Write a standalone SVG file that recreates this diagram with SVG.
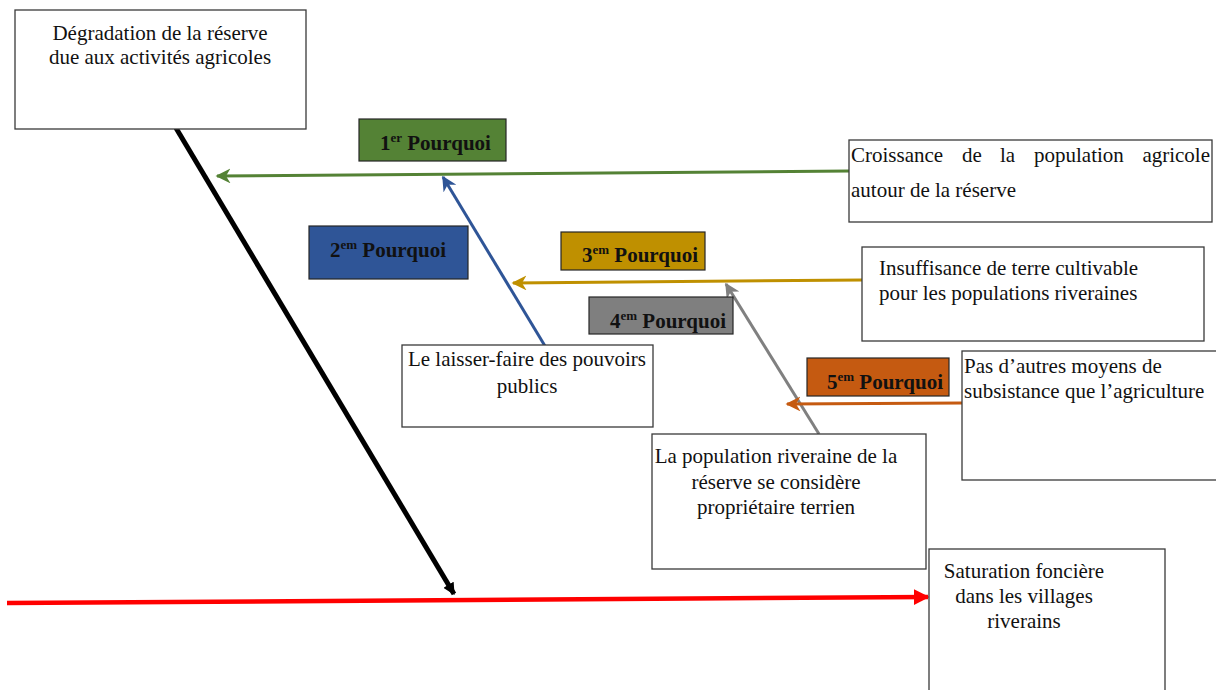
<svg xmlns="http://www.w3.org/2000/svg" width="1216" height="690" viewBox="0 0 1216 690">
<style>
.box{fill:#ffffff;stroke:#3a3a3a;stroke-width:1.3}
.tag{stroke:#262626;stroke-width:1.2}
.t{font-family:"Liberation Serif","Times New Roman",serif;font-size:21px;fill:#111}
.b{font-family:"Liberation Serif","Times New Roman",serif;font-size:21px;font-weight:bold;fill:#111}
.sup{font-size:13px}
.c{text-anchor:middle}
</style>
<defs>
<marker id="aGreen" viewBox="0 0 10 10" refX="9" refY="5" markerWidth="5" markerHeight="5" orient="auto" markerUnits="strokeWidth"><path d="M0,0 L10,5 L0,10 L3,5 z" fill="#548235"/></marker>
<marker id="aBlue" viewBox="0 0 10 10" refX="9" refY="5" markerWidth="5" markerHeight="5" orient="auto" markerUnits="strokeWidth"><path d="M0,0 L10,5 L0,10 L3,5 z" fill="#2F5597"/></marker>
<marker id="aGold" viewBox="0 0 10 10" refX="9" refY="5" markerWidth="5" markerHeight="5" orient="auto" markerUnits="strokeWidth"><path d="M0,0 L10,5 L0,10 L3,5 z" fill="#BF9000"/></marker>
<marker id="aGray" viewBox="0 0 10 10" refX="9" refY="5" markerWidth="5" markerHeight="5" orient="auto" markerUnits="strokeWidth"><path d="M0,0 L10,5 L0,10 L3,5 z" fill="#808080"/></marker>
<marker id="aOrange" viewBox="0 0 10 10" refX="9" refY="5" markerWidth="5" markerHeight="5" orient="auto" markerUnits="strokeWidth"><path d="M0,0 L10,5 L0,10 L3,5 z" fill="#C55A11"/></marker>
<marker id="aRed" viewBox="0 0 10 10" refX="9" refY="5" markerWidth="3.5" markerHeight="3.5" orient="auto" markerUnits="strokeWidth"><path d="M0,0 L10,5 L0,10 z" fill="#FF0000"/></marker>
<marker id="aBlack" viewBox="0 0 10 10" refX="9" refY="5" markerWidth="2.4" markerHeight="2.4" orient="auto" markerUnits="strokeWidth"><path d="M0,0 L10,5 L0,10 z" fill="#000"/></marker>
</defs>

<g id="connectors">
<line x1="176" y1="128" x2="454" y2="594" stroke="#000" stroke-width="5" marker-end="url(#aBlack)"/>
<line x1="7" y1="603" x2="928" y2="597" stroke="#FF0000" stroke-width="4.5" marker-end="url(#aRed)"/>
<line x1="849" y1="171" x2="217" y2="176" stroke="#548235" stroke-width="3" marker-end="url(#aGreen)"/>
<line x1="545" y1="346" x2="443" y2="177" stroke="#2F5597" stroke-width="3" marker-end="url(#aBlue)"/>
<line x1="862" y1="280" x2="513" y2="283" stroke="#BF9000" stroke-width="3" marker-end="url(#aGold)"/>
<line x1="819" y1="434" x2="726" y2="284" stroke="#808080" stroke-width="3" marker-end="url(#aGray)"/>
<line x1="962" y1="403" x2="787" y2="404" stroke="#C55A11" stroke-width="3" marker-end="url(#aOrange)"/>
</g>

<g id="n-degradation">
<rect class="box" x="15" y="10" width="291" height="119"/>
<text class="t c" x="160" y="40">Dégradation de la réserve</text>
<text class="t c" x="160" y="64">due aux activités agricoles</text>
</g>

<g id="n-why1">
<rect class="tag" x="359" y="119" width="147" height="42" fill="#548235"/>
<text class="b" x="380" y="150">1<tspan class="sup" dy="-8">er</tspan><tspan dy="8"> Pourquoi</tspan></text>
</g>

<g id="n-croissance">
<rect class="box" x="849" y="140" width="363" height="82"/>
<text class="t" x="851" y="162">Croissance</text>
<text class="t" x="962" y="162">de</text>
<text class="t" x="1000" y="162">la</text>
<text class="t" x="1034" y="162">population</text>
<text class="t" x="1210" y="162" text-anchor="end">agricole</text>
<text class="t" x="851" y="197">autour de la réserve</text>
</g>

<g id="n-why2">
<rect class="tag" x="309" y="226" width="159" height="53" fill="#2F5597"/>
<text class="b" x="330" y="257">2<tspan class="sup" dy="-8">em</tspan><tspan dy="8"> Pourquoi</tspan></text>
</g>

<g id="n-why3">
<rect class="tag" x="561" y="232" width="144" height="38" fill="#BF9000"/>
<text class="b" x="582" y="262">3<tspan class="sup" dy="-8">em</tspan><tspan dy="8"> Pourquoi</tspan></text>
</g>

<g id="n-insuffisance">
<rect class="box" x="862" y="247" width="342" height="94"/>
<text class="t" x="879" y="275">Insuffisance de terre cultivable</text>
<text class="t" x="879" y="300">pour les populations riveraines</text>
</g>

<g id="n-why4">
<rect class="tag" x="589" y="297" width="144" height="37" fill="#7F7F7F"/>
<text class="b" x="610" y="328">4<tspan class="sup" dy="-8">em</tspan><tspan dy="8"> Pourquoi</tspan></text>
</g>

<g id="n-laisser">
<rect class="box" x="402" y="345" width="251" height="82"/>
<text class="t c" x="527" y="366">Le laisser-faire des pouvoirs</text>
<text class="t c" x="527" y="393">publics</text>
</g>

<g id="n-why5">
<rect class="tag" x="807" y="358" width="142" height="38" fill="#C55A11"/>
<text class="b" x="827" y="389">5<tspan class="sup" dy="-8">em</tspan><tspan dy="8"> Pourquoi</tspan></text>
</g>

<g id="n-subsistance">
<rect class="box" x="962" y="351" width="260" height="129"/>
<text class="t" x="964" y="373">Pas d’autres moyens de</text>
<text class="t" x="964" y="398">subsistance que l’agriculture</text>
</g>

<g id="n-population">
<rect class="box" x="652" y="434" width="274" height="135"/>
<text class="t c" x="776" y="463">La population riveraine de la</text>
<text class="t c" x="776" y="489">réserve se considère</text>
<text class="t c" x="776" y="514">propriétaire terrien</text>
</g>

<g id="n-saturation">
<rect class="box" x="929" y="549" width="236" height="150"/>
<text class="t c" x="1024" y="578">Saturation foncière</text>
<text class="t c" x="1024" y="603">dans les villages</text>
<text class="t c" x="1024" y="628">riverains</text>
</g>
</svg>
